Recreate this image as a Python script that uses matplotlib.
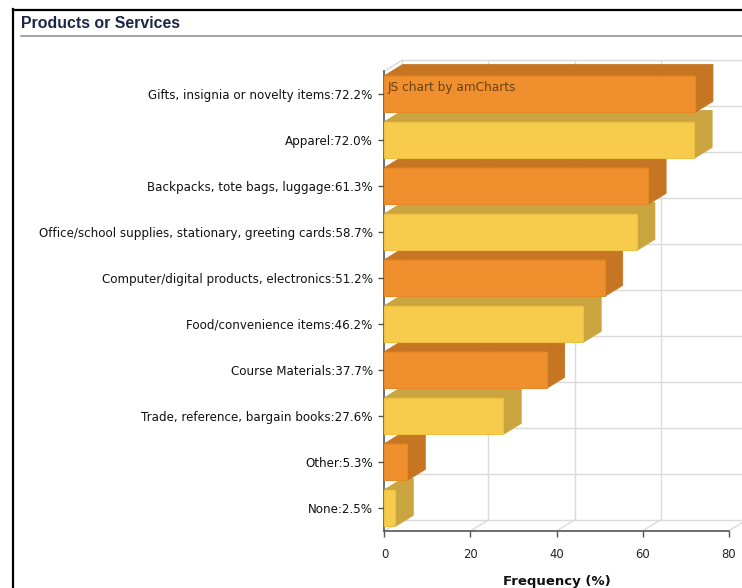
import matplotlib
matplotlib.use("Agg")
import matplotlib.pyplot as plt
from matplotlib.patches import Polygon

# ---------------- data ----------------
categories = [
    "Gifts, insignia or novelty items",
    "Apparel",
    "Backpacks, tote bags, luggage",
    "Office/school supplies, stationary, greeting cards",
    "Computer/digital products, electronics",
    "Food/convenience items",
    "Course Materials",
    "Trade, reference, bargain books",
    "Other",
    "None",
]
values = [72.2, 72.0, 61.3, 58.7, 51.2, 46.2, 37.7, 27.6, 5.3, 2.5]
x_ticks = [0, 20, 40, 60, 80]
title = "Products or Services"
x_label = "Frequency (%)"
watermark = "JS chart by amCharts"

# ---------------- style ----------------
W, H = 742, 588
front_colors = ["#EF8F2D", "#F7CB4B"]
face_colors = ["#C67622", "#C9A43F"]
edge_colors = ["#E88726", "#EFC040"]
grid_color = "#DADADA"
axis_color = "#555555"

fig = plt.figure(figsize=(W / 100, H / 100), dpi=100)
fig.patch.set_facecolor("white")

# plot area in pixel coordinates
ax_left, ax_right = 384.5, 742.0
ax_top, ax_bottom = 71.0, 531.0
px_per_unit = 86.0 / 20.0
ax = fig.add_axes([ax_left / W, 1 - ax_bottom / H,
                   (ax_right - ax_left) / W, (ax_bottom - ax_top) / H])
n = len(categories)
ax.set_xlim(0, (ax_right - ax_left) / px_per_unit)
ax.set_ylim(n - 0.5, -0.5)
ax.patch.set_alpha(0)

# 3D depth in data units
px_per_cat = (ax_bottom - ax_top) / n
DX = 18.0 / px_per_unit
DY = 11.0 / px_per_cat

for s in ["top", "right"]:
    ax.spines[s].set_visible(False)
ax.spines["left"].set_color(axis_color)
ax.spines["bottom"].set_color(axis_color)
ax.spines["left"].set_linewidth(1.2)
ax.spines["bottom"].set_linewidth(1.2)
ax.spines["bottom"].set_bounds(0, 80)

y_top = -0.5
y_bot = n - 0.5
xmax = ax.get_xlim()[1] + 10

# back wall grid
for xt in x_ticks:
    ax.plot([xt + DX, xt + DX], [y_top - DY, y_bot - DY], color=grid_color,
            lw=1, clip_on=False, zorder=1)
    ax.plot([xt, xt + DX], [y_bot, y_bot - DY], color=grid_color,
            lw=1, clip_on=False, zorder=1)
ax.plot([0, DX], [y_top, y_top - DY], color=grid_color, lw=1,
        clip_on=False, zorder=1)
for j in range(n + 1):
    yb = j - 0.5 - DY
    ax.plot([DX, xmax], [yb, yb], color=grid_color, lw=1, clip_on=False,
            zorder=1)

# bars, drawn bottom-up so upper bars occlude lower ones
bh = 0.8
for i in range(n - 1, -1, -1):
    v = values[i]
    c = i % 2
    z = 10 + (n - i) * 3
    y0 = i - bh / 2
    y1 = i + bh / 2
    top = Polygon([(0, y0), (v, y0), (v + DX, y0 - DY), (DX, y0 - DY)],
                  closed=True, facecolor=face_colors[c],
                  edgecolor=face_colors[c], lw=0.6, zorder=z, clip_on=False)
    side = Polygon([(v, y0), (v + DX, y0 - DY), (v + DX, y1 - DY), (v, y1)],
                   closed=True, facecolor=face_colors[c],
                   edgecolor=face_colors[c], lw=0.6, zorder=z, clip_on=False)
    ax.add_patch(top)
    ax.add_patch(side)
    ax.barh(i, v, height=bh, color=front_colors[c], edgecolor=edge_colors[c],
            linewidth=0.8, zorder=z + 1, clip_on=False)

# ticks / labels
ax.set_yticks(range(n))
ax.set_yticklabels([f"{c}:{v:.1f}%" for c, v in zip(categories, values)],
                   fontsize=8.55, color="#111111", family="DejaVu Sans")
ax.set_xticks(x_ticks)
ax.set_xticklabels([str(t) for t in x_ticks], fontsize=8.4, color="#222222",
                   family="DejaVu Sans")
ax.tick_params(axis="y", length=4, width=1, color=axis_color, pad=4.5)
ax.tick_params(axis="x", length=4, width=1, color=axis_color, pad=8)

fig.text(556.5 / W, 1 - 581 / H, x_label, ha="center", va="center",
         fontsize=9.5, fontweight="bold", color="#111111", family="DejaVu Sans")

# watermark
fig.text(388 / W, 1 - 88 / H, watermark, ha="left", va="center",
         fontsize=8.7, color="black", alpha=0.55, family="DejaVu Sans",
         zorder=100)

# frame, title and rule
fig.add_artist(plt.Line2D([13 / W, 13 / W], [1 - 9 / H, 0], color="black",
                          lw=1.6, transform=fig.transFigure))
fig.add_artist(plt.Line2D([13 / W, 1], [1 - 9.5 / H, 1 - 9.5 / H],
                          color="black", lw=1.6, transform=fig.transFigure))
fig.text(21 / W, 1 - 23 / H, title, ha="left", va="center", fontsize=11.4,
         fontweight="bold", color="#1B2747", family="Liberation Sans")
fig.add_artist(plt.Line2D([21 / W, 1], [1 - 36 / H, 1 - 36 / H],
                          color="#8A8A8A", lw=1.1, transform=fig.transFigure))

fig.savefig("out.png", dpi=100)
